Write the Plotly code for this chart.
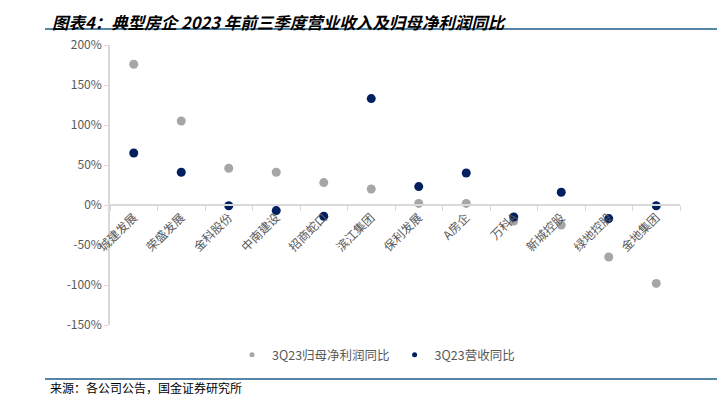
import plotly.graph_objects as go

categories = ["城建发展", "荣盛发展", "金科股份", "中南建设", "招商蛇口", "滨江集团",
              "保利发展", "A房企", "万科A", "新城控股", "绿地控股", "金地集团"]
net_profit_yoy = [176, 105, 46, 41, 28, 20, 2, 2, -20, -25, -65, -98]
revenue_yoy = [65, 41, -1, -7, -14, 133, 23, 40, -15, 16, -17, -1]
y_ticks = [-150, -100, -50, 0, 50, 100, 150, 200]
y_tick_labels = [f"{v}%" for v in y_ticks]

# the page body adds an 8px offset; work in window pixels and shift
OFF = 8
W, H = 725 - OFF, 398 - OFF
L, T = 110 - OFF, 45 - OFF
R, B = 725 - 680, 398 - 325
pw, ph = W - L - R, H - T - B

def px(x):
    return (x - OFF - L) / pw

def py(y):
    return (H - B - (y - OFF)) / ph

FONT = "Noto Sans CJK SC"
TXT = "#595959"
GRAY = "#A6A6A6"
NAVY = "#002060"

fig = go.Figure()
fig.add_trace(go.Scatter(
    x=categories, y=net_profit_yoy, mode="markers", name="3Q23归母净利润同比",
    marker=dict(color=GRAY, size=9, line=dict(width=0)), showlegend=False,
))
fig.add_trace(go.Scatter(
    x=categories, y=revenue_yoy, mode="markers", name="3Q23营收同比",
    marker=dict(color=NAVY, size=9, line=dict(width=0)), showlegend=False,
))
# legend entries (small dots like the reference)
fig.add_trace(go.Scatter(x=[None], y=[None], mode="markers", name="3Q23归母净利润同比",
                         marker=dict(color=GRAY, size=5)))
fig.add_trace(go.Scatter(x=[None], y=[None], mode="markers", name="3Q23营收同比",
                         marker=dict(color=NAVY, size=5)))

ymin, ymax = -150, 200
fig.update_layout(
    width=W, height=H,
    margin=dict(l=L, r=R, t=T, b=B),
    paper_bgcolor="white", plot_bgcolor="white",
    font=dict(family=FONT, color=TXT, size=11),
    showlegend=True,
    legend=dict(orientation="h", x=px(376), xanchor="center", y=py(355), yanchor="middle",
                font=dict(size=12.5, color=TXT, family=FONT), itemwidth=30,
                itemsizing="trace", bgcolor="rgba(0,0,0,0)", tracegroupgap=0),
    xaxis=dict(
        type="category", range=[-0.5, len(categories) - 0.5],
        anchor="free", position=(0 - ymin) / (ymax - ymin),
        showline=True, linecolor="#D9D9D9", linewidth=1.5,
        ticks="outside", ticklen=5, tickcolor="#D9D9D9", tickson="boundaries",
        tickangle=-45, tickfont=dict(size=12, color=TXT, family=FONT),
        showgrid=False, zeroline=False,
    ),
    yaxis=dict(
        range=[ymin, ymax], tickvals=y_ticks, ticktext=y_tick_labels,
        showline=True, linecolor="#D9D9D9", linewidth=1.5,
        ticks="outside", ticklen=4, tickcolor="#D9D9D9",
        showgrid=False, zeroline=False,
        tickfont=dict(size=12, color=TXT, family=FONT),
    ),
)

fig.add_annotation(
    xref="paper", yref="paper", x=px(50), y=py(OFF), xanchor="left", yanchor="top",
    text="<b><i>图表4：典型房企 2023 年前三季度营业收入及归母净利润同比</i></b>",
    showarrow=False, font=dict(size=16.5, color="#000000", family=FONT),
)
fig.add_shape(type="line", xref="paper", yref="paper", x0=px(45), x1=px(725),
              y0=py(29), y1=py(29), line=dict(color="#1F5C87", width=1.5))
fig.add_shape(type="line", xref="paper", yref="paper", x0=px(45), x1=px(725),
              y0=py(379), y1=py(379), line=dict(color="#1F5C87", width=1.5))
fig.add_annotation(
    xref="paper", yref="paper", x=px(48), y=py(398), xanchor="left", yanchor="bottom",
    text="来源：各公司公告，国金证券研究所", showarrow=False,
    font=dict(size=12, color="#000000", family=FONT),
)

fig.write_html("out.html")
